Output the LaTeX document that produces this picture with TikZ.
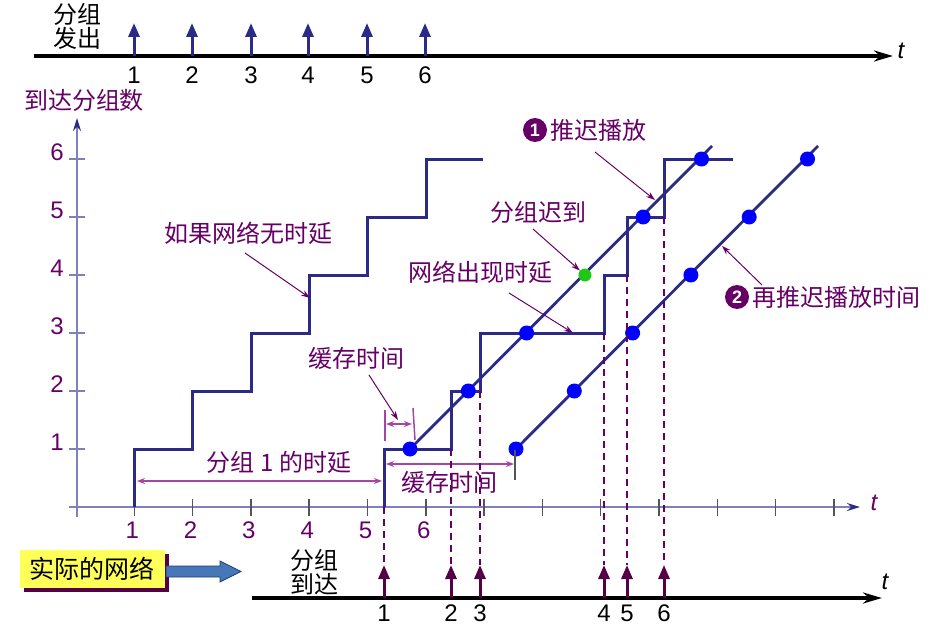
\documentclass[tikz,border=0pt]{standalone}
\usepackage{fontspec}
\setmainfont{Liberation Sans}
\newfontfamily\cjk{Noto Sans CJK SC}
\usetikzlibrary{arrows.meta,shadows}
\definecolor{navyline}{RGB}{43,43,135}
\definecolor{axisblue}{RGB}{128,128,192}
\definecolor{labelpurple}{RGB}{102,0,102}
\definecolor{arrivepurple}{RGB}{85,0,70}
\definecolor{spanpurple}{RGB}{165,70,165}
\definecolor{tickgray}{RGB}{85,85,85}
\definecolor{notebox}{RGB}{255,255,90}
\definecolor{blockblue}{RGB}{70,120,185}
\definecolor{blockdark}{RGB}{30,60,110}
\definecolor{lategreen}{RGB}{30,200,20}
\tikzset{
  lbl/.style={font=\cjk\fontsize{24}{24}\selectfont, text=labelpurple, inner sep=0pt},
  blk/.style={font=\cjk\fontsize{24}{24}\selectfont, text=black, inner sep=0pt, align=center},
  num/.style={font=\fontsize{24}{24}\selectfont, inner sep=0pt},
  tlbl/.style={font=\itshape\fontsize{24}{24}\selectfont, inner sep=0pt},
  stair/.style={draw=navyline, line width=3pt},
  playline/.style={draw=navyline, line width=2.8pt},
  pkt/.style={circle, fill=blue, inner sep=0pt, minimum size=15pt},
  pointer/.style={draw=labelpurple, line width=1pt, -{Stealth[length=9pt,width=6pt]}},
  span/.style={draw=spanpurple, line width=1.5pt, {Stealth[length=8pt,width=6pt]}-{Stealth[length=8pt,width=6pt]}},
  guide/.style={draw=labelpurple, line width=1.8pt, dash pattern=on 7pt off 5pt},
  timeline/.style={draw=black, line width=4pt, -{Stealth[length=19pt,width=11pt]}},
  axis/.style={draw=axisblue, line width=2pt, -{Stealth[length=13pt,width=8pt,color=navyline]}},
  sendarrow/.style={draw=navyline, line width=3pt, -{Triangle[length=14pt,width=11pt]}},
  arrivearrow/.style={draw=arrivepurple, line width=3pt, -{Triangle[length=14pt,width=11pt]}},
  badge/.style={circle, fill=labelpurple, text=white, inner sep=0pt, minimum size=24pt, font=\bfseries\fontsize{18}{18}\selectfont}
}
\begin{document}
\begin{tikzpicture}[x=1pt, y=-1pt]
  \useasboundingbox (0,0) rectangle (930,626);
  % sending side
  \coordinate (sendstart) at (34,56);
  \coordinate (sendend) at (893,56);
  \draw[timeline] (sendstart) -- (sendend);
  \node[tlbl] (tsend) at (901,51) {t};
  \node[blk] (sendlbl) at (77,26) {分组\\发出};
  \foreach \k/\x in {1/134,2/192,3/251,4/308,5/367,6/425} {
    \coordinate (sb\k) at (\x,56);
    \coordinate (st\k) at (\x,23);
    \draw[sendarrow] (sb\k) -- (st\k);
    \node[num] (sn\k) at (\x,75) {\k};
  }
  % chart axes
  \coordinate (ybot) at (77,517);
  \coordinate (ytop) at (77,118);
  \coordinate (xleft) at (69,507);
  \coordinate (xright) at (860,507);
  \draw[axis] (ybot) -- (ytop);
  \draw[axis] (xleft) -- (xright);
  \node[lbl] (yname) at (84,100) {到达分组数};
  \node[tlbl, text=labelpurple] (tchart) at (874,503) {t};
  \foreach \k in {1,...,13}
    \draw[tickgray, line width=1.5pt] ({76+58.3*\k},499) -- ({76+58.3*\k},516);
  \foreach \k in {1,...,6} {
    \draw[axisblue, line width=1.5pt] (69,{507-58*\k}) -- (85,{507-58*\k});
    \node[num, text=labelpurple] (yn\k) at (57,{500-58*\k}) {\k};
    \node[num, text=labelpurple] (xn\k) at ({74+58.3*\k},530) {\k};
  }
  % staircases
  \draw[stair] (134,507) -- (134,449) -- (192,449) -- (192,391) -- (251,391) -- (251,333)
    -- (309,333) -- (309,275) -- (367,275) -- (367,217) -- (426,217) -- (426,159) -- (483,159);
  \draw[stair] (384,507) -- (384,449) -- (451,449) -- (451,391) -- (480,391) -- (480,333)
    -- (604,333) -- (604,275) -- (627,275) -- (627,217) -- (664,217) -- (664,159) -- (733,159);
  % playback lines
  \foreach \k in {1,...,6} {
    \coordinate (pa\k) at ({410+58.3*(\k-1)},{449-58*(\k-1)});
    \coordinate (pb\k) at ({516+58.3*(\k-1)},{449-58*(\k-1)});
  }
  \coordinate (paend) at (712,146);
  \coordinate (pbend) at (818,146);
  \draw[playline] (pa1) -- (paend);
  \draw[playline] (pb1) -- (pbend);
  \foreach \k in {1,2,3,5,6}
    \node[pkt] (dota\k) at (pa\k) {};
  \node[pkt, fill=lategreen, minimum size=13pt] (dota4) at (pa4) {};
  \foreach \k in {1,...,6}
    \node[pkt] (dotb\k) at (pb\k) {};
  % spans
  \draw[spanpurple, line width=1.5pt] (385,410) -- (385,441);
  \draw[spanpurple, line width=1.5pt] (413,408) -- (415,440);
  \coordinate (bufa) at (386,424);
  \coordinate (bufb) at (412,424);
  \draw[span] (bufa) -- (bufb);
  \coordinate (dl1a) at (137,481);
  \coordinate (dl1b) at (382,481);
  \draw[span] (dl1a) -- (dl1b);
  \node[lbl] (delay1) at (279,462) {分组 1 的时延};
  \draw[tickgray, line width=2pt] (515,450) -- (515,480);
  \coordinate (buf2a) at (386,464);
  \coordinate (buf2b) at (514,464);
  \draw[span] (buf2a) -- (buf2b);
  \node[lbl] (buffer2) at (449,482) {缓存时间};
  % labels and pointers
  \node[lbl] (buffer1) at (356,358) {缓存时间};
  \coordinate (buf1tail) at (369,375);
  \coordinate (buf1head) at (398,420);
  \draw[pointer] (buf1tail) -- (buf1head);
  \node[lbl] (nodelay) at (248,233) {如果网络无时延};
  \coordinate (ndtail) at (245,253);
  \coordinate (ndhead) at (310,298);
  \draw[pointer] (ndtail) -- (ndhead);
  \node[lbl] (withdelay) at (480,272) {网络出现时延};
  \coordinate (wdtail) at (509,293);
  \coordinate (wdhead) at (573,333);
  \draw[pointer] (wdtail) -- (wdhead);
  \node[lbl] (late) at (538,212) {分组迟到};
  \coordinate (latetail) at (533,229);
  \draw[pointer] (latetail) -- (dota4);
  \node[badge] (badge1) at (535,130) {1};
  \node[lbl, anchor=west] (play1) at (550,130) {推迟播放};
  \coordinate (p1tail) at (595,152);
  \coordinate (p1head) at (655,200);
  \draw[pointer] (p1tail) -- (p1head);
  \node[badge] (badge2) at (737,297) {2};
  \node[lbl, anchor=west] (play2) at (752,297) {再推迟播放时间};
  \coordinate (p2tail) at (762,285);
  \coordinate (p2head) at (722,246);
  \draw[pointer] (p2tail) -- (p2head);
  % arriving side
  \node[blk, font=\cjk\fontsize{25}{25}\selectfont, fill=notebox, minimum width=145pt, minimum height=38pt,
    drop shadow={shadow xshift=4pt, shadow yshift=-4pt, fill=arrivepurple, opacity=1}] (network) at (92,569) {实际的网络};
  \filldraw[fill=blockblue, draw=blockdark, line width=0.8pt] (166,566) -- (220,566) -- (220,561)
    -- (241,571.5) -- (220,582) -- (220,577) -- (166,577) -- cycle;
  \node[blk] (arrivelbl) at (314,572) {分组\\到达};
  \coordinate (arrstart) at (252,598);
  \coordinate (arrend) at (882,598);
  \draw[timeline] (arrstart) -- (arrend);
  \node[tlbl] (tarrive) at (885,582) {t};
  \foreach \k/\x/\y in {1/384/507,2/451/449,3/480/391,4/604/333,5/627/275,6/664/217} {
    \coordinate (rb\k) at (\x,\y);
    \coordinate (ab\k) at (\x,598);
    \coordinate (at\k) at (\x,565);
    \draw[guide] (rb\k) -- (at\k);
    \draw[arrivearrow] (ab\k) -- (at\k);
    \node[num] (an\k) at (\x,613) {\k};
  }
\end{tikzpicture}
\end{document}
